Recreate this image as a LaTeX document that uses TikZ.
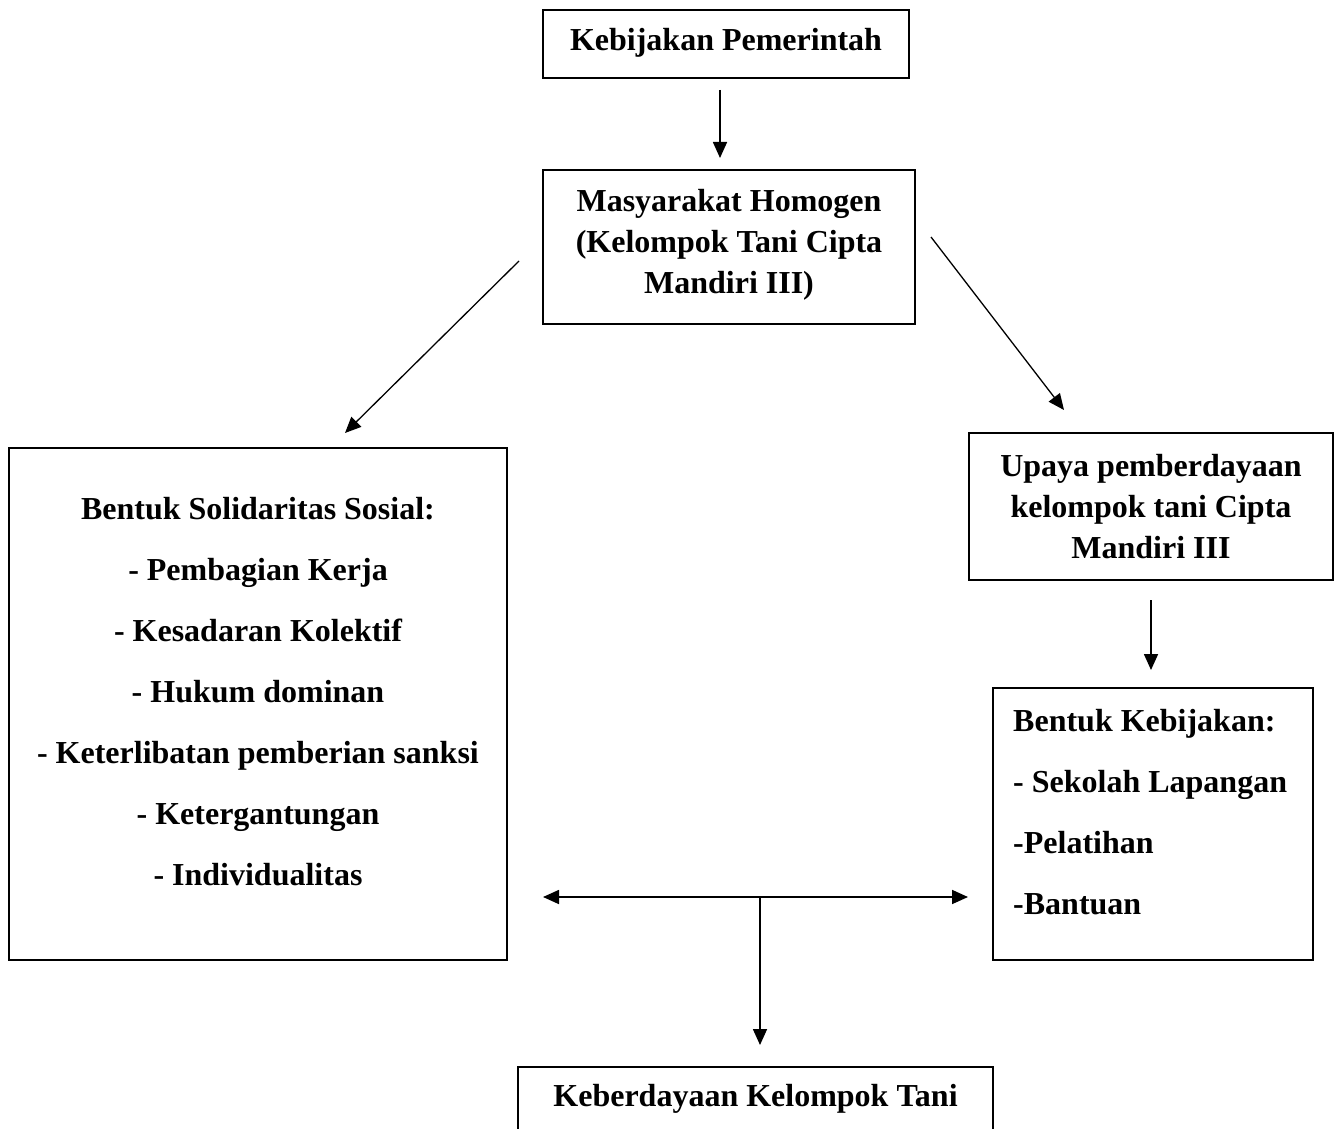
\documentclass[tikz,border=0pt]{standalone}
\usepackage{fontspec}
\setmainfont{Liberation Serif}
\usetikzlibrary{arrows.meta}
\begin{document}
\begin{tikzpicture}[x=1pt,y=-1pt,
  box/.style={draw,line width=1.8pt,inner sep=0pt,outer sep=0pt},
  txt/.style={font=\fontsize{32}{41}\selectfont\bfseries,align=center,inner sep=0pt},
  wide/.style={font=\fontsize{32}{61}\selectfont\bfseries,inner sep=0pt},
  arr/.style={line width=1.7pt,-{Triangle[length=16pt,width=14pt]}},
  darr/.style={line width=1.7pt,{Triangle[length=16pt,width=14pt]}-{Triangle[length=16pt,width=14pt]}}]
\useasboundingbox (0,0) rectangle (1341,1129);
\clip (0,0) rectangle (1341,1129);
% boxes
\node[box,minimum width=366pt,minimum height=68pt] (b1) at (726,44) {};
\node[box,minimum width=372pt,minimum height=154pt] (b2) at (729,247) {};
\node[box,minimum width=498pt,minimum height=512pt] (b3) at (258,704) {};
\node[box,minimum width=364pt,minimum height=147pt] (b4) at (1151,506.5) {};
\node[box,minimum width=320pt,minimum height=272pt] (b5) at (1153,824) {};
\node[box,minimum width=475pt,minimum height=100pt] (b6) at (755.5,1117) {};
% texts
\node[txt] (t1) at (726,43) {Kebijakan Pemerintah};
\node[txt] (t2) at (729,245) {Masyarakat Homogen\\(Kelompok Tani Cipta\\Mandiri III)};
\node[wide,align=center] (t3) at (258,692) {Bentuk Solidaritas Sosial:\\- Pembagian Kerja\\- Kesadaran Kolektif\\- Hukum dominan\\- Keterlibatan pemberian sanksi\\- Ketergantungan\\- Individualitas};
\node[txt] (t4) at (1151,507) {Upaya pemberdayaan\\kelompok tani Cipta\\Mandiri III};
\node[wide,align=left,anchor=west] (t5) at (1013,812) {Bentuk Kebijakan:\\- Sekolah Lapangan\\-Pelatihan\\-Bantuan};
\node[txt] (t6) at (755.5,1099) {Keberdayaan Kelompok Tani};
% connectors
\draw[arr,shorten <=12pt,shorten >=12pt] (b1.south -| 720,0) -- (b2.north -| 720,0);
\coordinate (l1) at (519,261);
\coordinate (l2) at (345,433);
\draw[arr,line width=1.3pt] (l1) -- (l2);
\coordinate (r1) at (931,237);
\coordinate (r2) at (1064,410);
\draw[arr,line width=1.3pt] (r1) -- (r2);
\draw[arr,shorten <=20pt,shorten >=18pt] (b4.south -| 1151,0) -- (b5.north -| 1151,0);
\coordinate (hl) at (543,897);
\coordinate (hr) at (968,897);
\coordinate (hm) at (760,897);
\draw[darr] (hl) -- (hr);
\draw[arr] (hm) -- (b6.north -| hm) [shorten >=22pt];
\end{tikzpicture}
\end{document}
